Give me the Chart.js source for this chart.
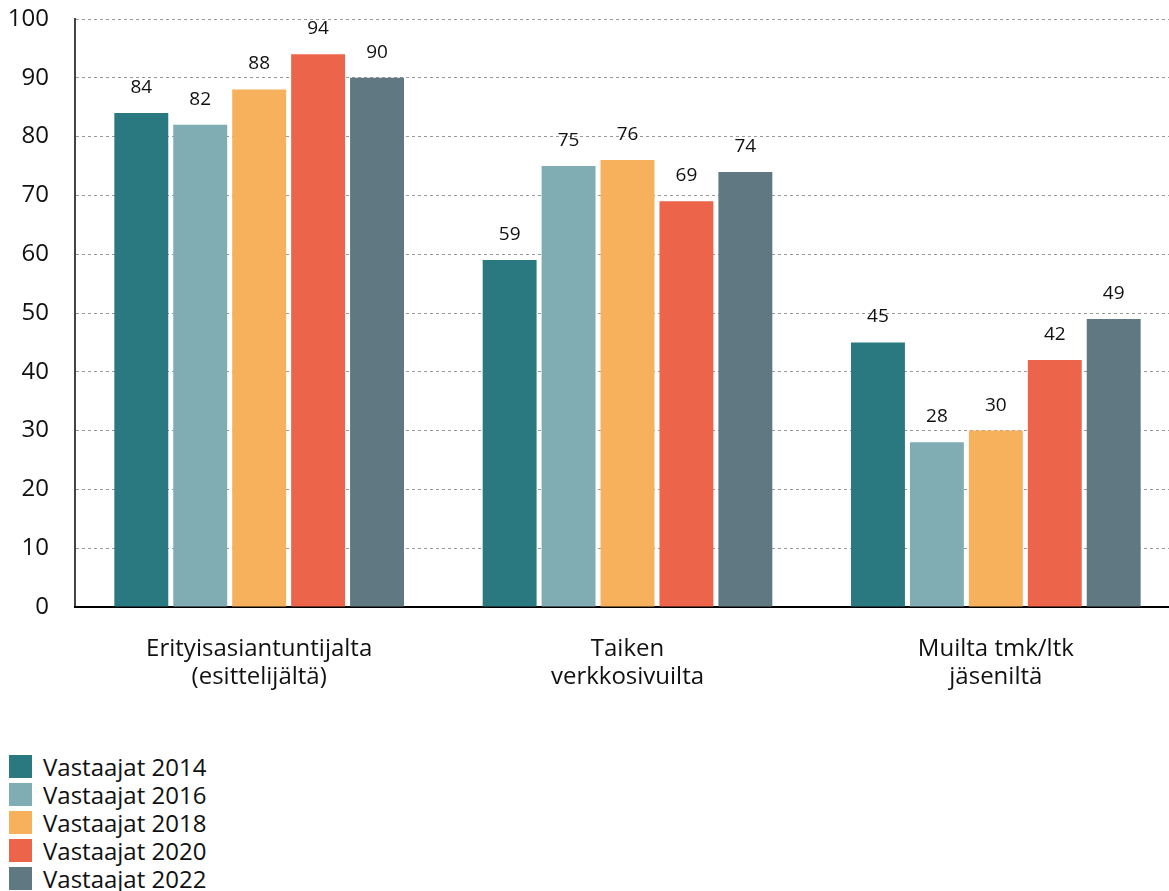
<!DOCTYPE html>
<html>
<head>
<meta charset="utf-8">
<script src="https://cdn.jsdelivr.net/npm/chart.js@4/dist/chart.umd.min.js"></script>
<style>
  html, body { margin: 0; padding: 0; background: #fff; overflow: hidden; }
  body { width: 1169px; height: 891px; font-family: "Open Sans", sans-serif; }
  .wrap { position: relative; width: 1180px; height: 700px; }
  #legend { position: absolute; left: 9px; top: 752px; }
  .item { display: flex; align-items: center; height: 28px; font-size: 24px; color: #111; }
  .box { width: 23px; height: 23px; margin-right: 11px; }
</style>
</head>
<body>
<div class="wrap"><canvas id="chart" width="1180" height="700"></canvas></div>
<div id="legend"></div>
<script>
const categories = [["Erityisasiantuntijalta", "(esittelijältä)"], ["Taiken", "verkkosivuilta"], ["Muilta tmk/ltk", "jäseniltä"]];
const seriesNames = ["Vastaajat 2014", "Vastaajat 2016", "Vastaajat 2018", "Vastaajat 2020", "Vastaajat 2022"];
const values2014 = [84, 59, 45];
const values2016 = [82, 75, 28];
const values2018 = [88, 76, 30];
const values2020 = [94, 69, 42];
const values2022 = [90, 74, 49];
const colors = ["#2a7880", "#80adb3", "#f7b05b", "#ec654b", "#607882"];

const allValues = [values2014, values2016, values2018, values2020, values2022];

// labels above bars
const valueLabels = {
    id: "valueLabels",
    afterDatasetsDraw(chart) {
        const ctx = chart.ctx;
        ctx.save();
        ctx.font = "19px 'Open Sans'";
        ctx.fillStyle = "#111";
        ctx.textAlign = "center";
        ctx.textBaseline = "bottom";
        chart.data.datasets.forEach((ds, i) => {
            chart.getDatasetMeta(i).data.forEach((bar, j) => {
                ctx.fillText(ds.data[j], bar.x, bar.y - 16);
            });
        });
        ctx.restore();
    },
};

const ctx = document.getElementById("chart").getContext("2d");
const chart = new Chart(ctx, {
    type: "bar",
    data: {
        labels: categories,
        datasets: allValues.map((vals, i) => ({
            label: seriesNames[i],
            data: vals,
            backgroundColor: colors[i],
            borderWidth: 0,
            categoryPercentage: 0.8,
            barPercentage: 0.915,
        })),
    },
    options: {
        responsive: false,
        animation: false,
        layout: { padding: { top: 19, right: 0, left: 0, bottom: 0 } },
        scales: {
            y: {
                min: 0,
                max: 100,
                ticks: {
                    stepSize: 10,
                    color: "#111",
                    font: { family: "Open Sans", size: 24 },
                    padding: 26,
                },
                grid: {
                    color: "#999",
                    drawTicks: false,
                },
                border: { display: true, color: "#444", width: 2, dash: [3, 3] },
                afterFit: function (scale) {
                    scale.width = 75;
                    scale.paddingTop = 0;
                    scale.paddingBottom = 0;
                },
            },
            x: {
                ticks: {
                    color: "#111",
                    font: { family: "Open Sans", size: 24, lineHeight: 1.13 },
                    padding: 29,
                },
                grid: { display: false, drawTicks: false },
                border: { display: true, color: "#000", width: 2 },
                afterFit: function (scale) { scale.height = 93; },
            },
        },
        plugins: {
            legend: { display: false },
            tooltip: { enabled: false },
        },
    },
    plugins: [valueLabels],
});

const legend = document.getElementById("legend");
seriesNames.forEach((name, i) => {
    const row = document.createElement("div");
    row.className = "item";
    row.innerHTML = '<span class="box" style="background:' + colors[i] + '"></span>' + name;
    legend.appendChild(row);
});
</script>
</body>
</html>
